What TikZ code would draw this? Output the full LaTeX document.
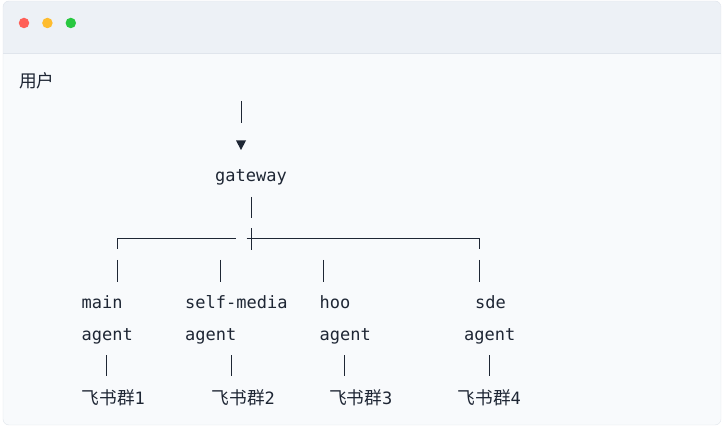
\documentclass[tikz,border=0pt]{standalone}
\usepackage{fontspec}
\setmonofont{DejaVu Sans Mono}
\newfontfamily\cjk[Scale=1.04]{Noto Sans CJK SC}
\usetikzlibrary{arrows.meta,positioning}
\definecolor{barcol}{RGB}{237,241,246}
\definecolor{bodycol}{RGB}{248,250,252}
\definecolor{edgecol}{RGB}{224,229,236}
\definecolor{dotred}{RGB}{255,95,87}
\definecolor{dotyellow}{RGB}{254,188,46}
\definecolor{dotgreen}{RGB}{40,200,64}
\definecolor{inkcol}{RGB}{30,38,52}

\begin{document}
\begin{tikzpicture}[x=1pt, y=-1pt,
  txt/.style={inner sep=0pt, anchor=base west, text=inkcol,
    font=\fontsize{17}{20}\selectfont\ttfamily},
  wire/.style={line width=1pt, draw=inkcol},
  dot/.style={circle, inner sep=0pt, minimum size=10.5pt}
]
\useasboundingbox (0,0) rectangle (725,430);

% Window
\fill[white] (0,0) rectangle (725,430);
\begin{scope}
  \clip[rounded corners=6pt] (3,1) rectangle (721,425);
  \fill[bodycol] (3,1) rectangle (721,425);
  \fill[barcol] (3,1) rectangle (721,53);
\end{scope}
\draw[edgecol] (3,53) -- (721,53);
\draw[edgecol, rounded corners=6pt] (3,1) rectangle (721,425);

\node[dot, fill=dotred] (red) at (24,23) {};
\node[dot, fill=dotyellow, right=12.5pt of red] (yellow) {};
\node[dot, fill=dotgreen, right=12.5pt of yellow] (green) {};

% Nodes
\node[txt] (user) at (19,88) {\cjk 用户};
\node[txt] (gateway) at (215,182) {gateway};

\node[txt] (mainname) at (81.5,308) {main};
\node[txt] (mainagent) at (81.5,340) {agent};
\node[txt] (selfname) at (185,308) {self-media};
\node[txt] (selfagent) at (185,340) {agent};
\node[txt] (hooname) at (319.5,308) {hoo};
\node[txt] (hooagent) at (319.5,340) {agent};
\node[txt] (sdename) at (475,308) {sde};
\node[txt] (sdeagent) at (464,340) {agent};

\node[txt] (group1) at (81.5,404) {{\cjk 飞书群}1};
\node[txt] (group2) at (211.5,404) {{\cjk 飞书群}2};
\node[txt] (group3) at (329,404) {{\cjk 飞书群}3};
\node[txt] (group4) at (457.5,404) {{\cjk 飞书群}4};

% Trunk
\draw[wire] (241,101) -- (241,123);
\fill[inkcol] (236,140.5) -- (246,140.5) -- (241,150) -- cycle;
\draw[wire] (251.3,197) -- (251.3,218.5);

% Branches
\coordinate (split) at (251.3,239);
\draw[wire] (235.7,239) -| (117,249.5);
\draw[wire] (246.7,239) -| (479,249.5);
\draw[wire] ([yshift=-11pt]split) -- ([yshift=10.5pt]split);
\foreach \x in {117,220,323.7,479}
  \draw[wire] (\x,260) -- (\x,281.5);

% Groups
\foreach \x in {106.7,231,344.3,489.3}
  \draw[wire] (\x,355) -- (\x,376);
\end{tikzpicture}
\end{document}
